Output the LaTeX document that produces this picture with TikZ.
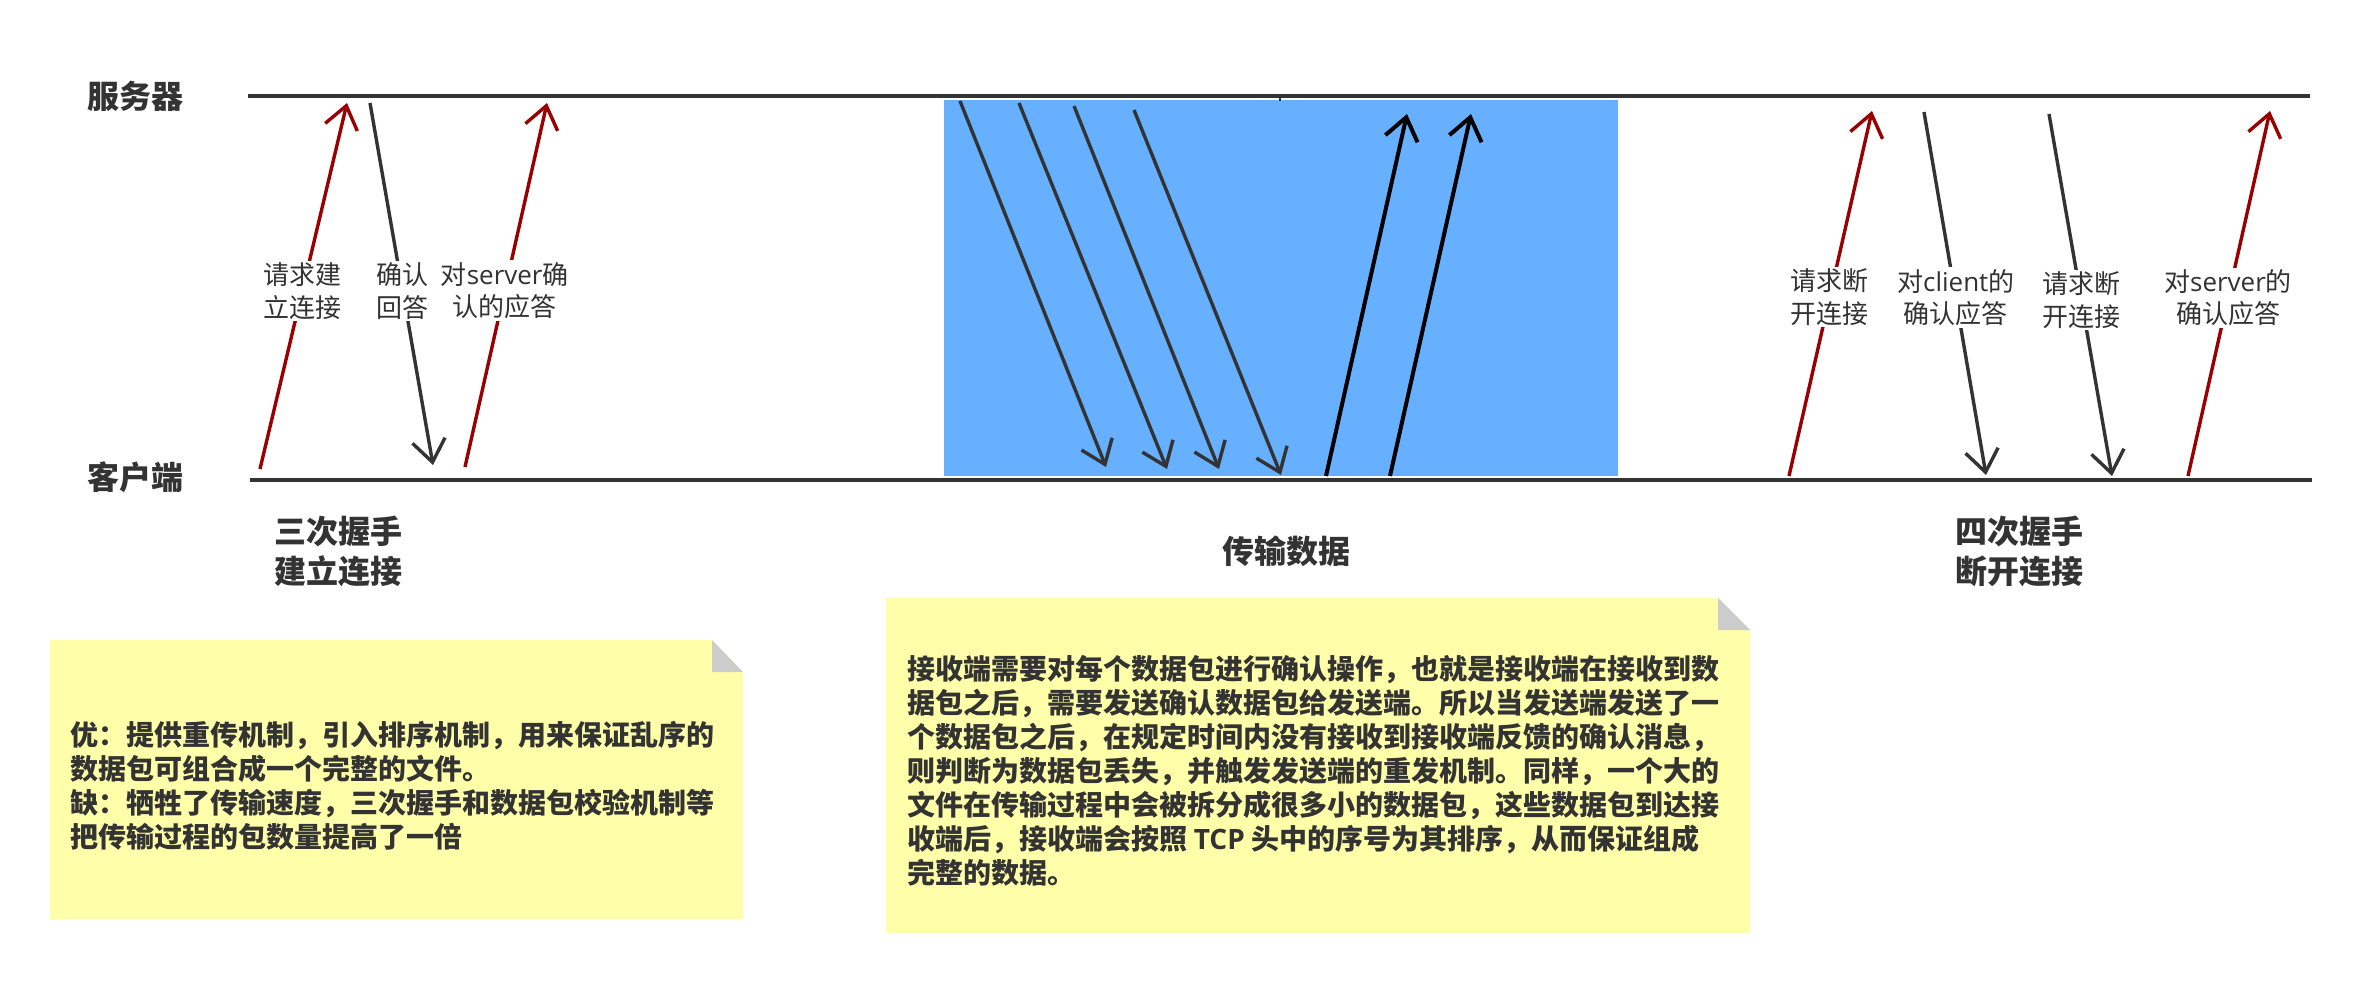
\documentclass[tikz,border=0pt]{standalone}
\usepackage{fontspec}
\setmainfont{Noto Sans CJK SC}
\newfontfamily\latinfont{Open Sans}
\usetikzlibrary{arrows.meta}
\definecolor{ink}{HTML}{333333}
\definecolor{redln}{HTML}{990000}
\definecolor{bluebg}{RGB}{102,176,255}
\definecolor{noteyel}{RGB}{255,255,170}
\definecolor{foldgray}{RGB}{204,204,204}
\begin{document}
\begin{tikzpicture}[x=0.5pt,y=-0.5pt,
  axisline/.style={line width=2pt, draw=ink},
  barb/.style={-{Straight Barb[length=11pt,width=16.5pt]}},
  msgred/.style={barb, line width=1.7pt, draw=redln},
  msgdark/.style={barb, line width=1.7pt, draw=ink},
  msgblack/.style={barb, line width=2pt, draw=black},
  lbl/.style={fill=white, inner sep=1pt, text=ink, align=center, font=\fontsize{13}{16.25}\selectfont},
  title/.style={text=ink, inner sep=0pt, font=\fontsize{16}{20}\selectfont\bfseries},
  notetext/.style={text=ink, inner sep=0pt, align=left, font=\fontsize{14}{17}\selectfont\bfseries},
]
\useasboundingbox (0,0) rectangle (2362,984);

% blue data area
\fill[bluebg] (944,100) rectangle (1618,476);

% timelines
\coordinate (srvL) at (248,96);
\coordinate (srvR) at (2310,96);
\coordinate (cliL) at (250,480);
\coordinate (cliR) at (2312,480);
\draw[axisline] (srvL) -- (srvR);
\draw[axisline] (cliL) -- (cliR);
\coordinate (tickA) at (1280,97);
\coordinate (tickB) at (1280,101);
\draw[line width=1pt, draw=ink] (tickA) -- (tickB);

\node[title] (server) at (135,96) {服务器};
\node[title] (client) at (135,477) {客户端};

% three-way handshake
\coordinate (a1s) at (260,469); \coordinate (a1e) at (347,103);
\coordinate (a2s) at (370,103); \coordinate (a2e) at (433,465);
\coordinate (a3s) at (465,467); \coordinate (a3e) at (547,103);
\draw[msgred] (a1s) -- node[lbl, pos=0.486] (l1) {请求建\\立连接} (a1e);
\draw[msgdark] (a2s) -- node[lbl, pos=0.519] (l2) {确认\\回答} (a2e);
\draw[msgred] (a3s) -- node[lbl, pos=0.484] (l3) {对{\latinfont server}确\\认的应答} (a3e);

\node[title, anchor=west, align=left] (hs3) at (274,551) {三次握手\\建立连接};

% data transfer
\coordinate (d1s) at (960,101);  \coordinate (d1e) at (1106,467);
\coordinate (d2s) at (1019,103); \coordinate (d2e) at (1167,469);
\coordinate (d3s) at (1074,106); \coordinate (d3e) at (1219,469);
\coordinate (d4s) at (1134,110); \coordinate (d4e) at (1281,475);
\coordinate (u1s) at (1326,476); \coordinate (u1e) at (1407,114);
\coordinate (u2s) at (1390,476); \coordinate (u2e) at (1471,114);
\draw[msgdark] (d1s) -- (d1e);
\draw[msgdark] (d2s) -- (d2e);
\draw[msgdark] (d3s) -- (d3e);
\draw[msgdark] (d4s) -- (d4e);
\draw[msgblack] (u1s) -- (u1e);
\draw[msgblack] (u2s) -- (u2e);

\node[title] (data) at (1286,551) {传输数据};

% four-way handshake
\coordinate (b1s) at (1789,476); \coordinate (b1e) at (1872,111);
\coordinate (b2s) at (1924,112); \coordinate (b2e) at (1986,475);
\coordinate (b3s) at (2049,114); \coordinate (b3e) at (2112,476);
\coordinate (b4s) at (2188,476); \coordinate (b4e) at (2270,111);
\draw[msgred] (b1s) -- node[lbl, pos=0.490] (m1) {请求断\\开连接} (b1e);
\draw[msgdark] (b2s) -- node[lbl, pos=0.512] (m2) {对{\latinfont client}的\\确认应答} (b2e);
\draw[msgdark] (b3s) -- node[lbl, pos=0.514] (m3) {请求断\\开连接} (b3e);
\draw[msgred] (b4s) -- node[lbl, pos=0.488] (m4) {对{\latinfont server}的\\确认应答} (b4e);

\node[title, align=left] (hs4) at (2019,551) {四次握手\\断开连接};

% note 1
\fill[noteyel] (50,640) -- (712,640) -- (743,672) -- (743,919) -- (50,919) -- cycle;
\fill[foldgray] (712,640) -- (712,672) -- (743,672) -- cycle;
\node[notetext, anchor=west] (note1) at (70,786) {优：提供重传机制，引入排序机制，用来保证乱序的\\数据包可组合成一个完整的文件。\\缺：牺牲了传输速度，三次握手和数据包校验机制等\\把传输过程的包数量提高了一倍};

% note 2
\fill[noteyel] (886,598) -- (1718,598) -- (1750,630) -- (1750,933) -- (886,933) -- cycle;
\fill[foldgray] (1718,598) -- (1718,630) -- (1750,630) -- cycle;
\node[notetext, anchor=west] (note2) at (907,771) {接收端需要对每个数据包进行确认操作，也就是接收端在接收到数\\据包之后，需要发送确认数据包给发送端。所以当发送端发送了一\\个数据包之后，在规定时间内没有接收到接收端反馈的确认消息，\\则判断为数据包丢失，并触发发送端的重发机制。同样，一个大的\\文件在传输过程中会被拆分成很多小的数据包，这些数据包到达接\\收端后，接收端会按照 {\latinfont TCP} 头中的序号为其排序，从而保证组成\\完整的数据。};
\end{tikzpicture}
\end{document}
